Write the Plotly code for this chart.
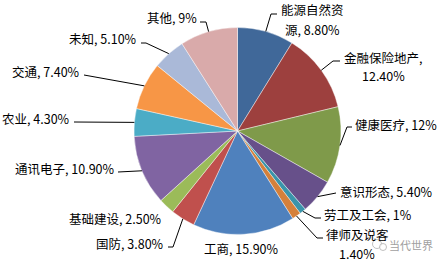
import math
import plotly.graph_objects as go

# ---- data ----
categories = ["能源自然资源", "金融保险地产", "健康医疗", "意识形态", "劳工及工会", "律师及说客",
              "工商", "国防", "基础建设", "通讯电子", "农业", "交通", "未知", "其他"]
values = [8.8, 12.4, 12, 5.4, 1, 1.4, 15.9, 3.8, 2.5, 10.9, 4.3, 7.4, 5.1, 9]
value_labels = ["8.80%", "12.40%", "12%", "5.40%", "1%", "1.40%", "15.90%", "3.80%", "2.50%",
                "10.90%", "4.30%", "7.40%", "5.10%", "9%"]

# ---- styles / layout ----
W, H = 447, 264
colors = ["#406899", "#9D403E", "#7F9A4A", "#67508A", "#3A94AA", "#D5803A",
          "#4F81BD", "#C0504D", "#9BBB59", "#8064A2", "#4BACC6", "#F79646",
          "#AAB9D8", "#D9AAAA"]
CX, CY, R = 237.5, 131.0, 103.5
LINE_GAP = 19

# wrapped display labels (lines); None -> "name, value" on one line
label_lines = [
    ["能源自然资", "源, 8.80%"], ["金融保险地产,", "12.40%"], None, None, None,
    ["律师及说客", "1.40%"], None, None, None, None, None, None, None, None,
]
# anchor of first line (px), xanchor
label_pos = [
    (312, 10, "center"), (383, 57, "center"), (353, 124, "left"), (338, 191, "left"),
    (322, 214, "left"), (357, 234, "center"), (242, 248, "center"), (166, 243, "right"),
    (164, 218, "right"), (117, 168, "right"), (72, 118, "right"), (82, 71, "right"),
    (139, 39, "right"), (199, 17, "right"),
]
leader = [
    [(271, 14), (277, 14)], [(333, 61), (340, 61)], [(347, 127), (352, 127)],
    [(336, 193)], [(315, 218), (321, 218)], [(317, 238), (323, 238)], [],
    [(173, 247), (168, 247)], [], [(118, 172)], [(74, 122)], [(84, 75)],
    [(146, 43), (141, 43)], [(206, 22), (200, 22)],
]


def px(x, y):
    return x / W, 1 - y / H


fig = go.Figure(go.Pie(
    labels=categories, values=values, sort=False, direction="clockwise", rotation=0,
    marker=dict(colors=colors, line=dict(color="rgba(255,255,255,0.7)", width=0.6)),
    textinfo="none", hoverinfo="label+percent",
    domain=dict(x=[(CX - R) / W, (CX + R) / W], y=[1 - (CY + R) / H, 1 - (CY - R) / H]),
))

total = sum(values)
cum = 0.0
annotations = []
shapes = []
font = dict(family="Noto Sans CJK SC, Noto Sans, sans-serif", size=12.5, color="#000000")
for i, v in enumerate(values):
    mid = (cum + v / 2) / total * 2 * math.pi
    cum += v
    ex = CX + R * math.sin(mid)
    ey = CY - R * math.cos(mid)
    pts = [(ex, ey)] + leader[i]
    if len(pts) > 1:
        path = "M " + " L ".join(f"{px(x, y)[0]},{px(x, y)[1]}" for x, y in pts)
        shapes.append(dict(type="path", path=path, xref="paper", yref="paper",
                           line=dict(color="#000000", width=1)))
    lines = label_lines[i] or [f"{categories[i]}, {value_labels[i]}"]
    lx, ly, xa = label_pos[i]
    for k, t in enumerate(lines):
        ax, ay = px(lx, ly + k * LINE_GAP)
        annotations.append(dict(text=t, x=ax, y=ay, xref="paper", yref="paper",
                                xanchor=xa, yanchor="middle", showarrow=False,
                                align="center", font=font))

# watermark
wx, wy = px(411, 245)
annotations.append(dict(text="当代世界", x=wx, y=wy, xref="paper", yref="paper",
                        xanchor="center", yanchor="middle", showarrow=False,
                        font=dict(family="Noto Sans CJK SC", size=11, color="#A0A0A0")))
for (cx, cy, r) in [(377, 244, 4.5), (383, 247, 3.5)]:
    x0, y0 = px(cx - r, cy - r)
    x1, y1 = px(cx + r, cy + r)
    shapes.append(dict(type="circle", xref="paper", yref="paper", x0=x0, y0=y1, x1=x1, y1=y0,
                       line=dict(color="#B0B0B0", width=0.8), fillcolor="rgba(255,255,255,0.8)"))

fig.update_layout(
    width=W, height=H, margin=dict(l=0, r=0, t=0, b=0),
    paper_bgcolor="white", plot_bgcolor="white", showlegend=False,
    annotations=annotations, shapes=shapes,
)
fig.write_html("out.html")
